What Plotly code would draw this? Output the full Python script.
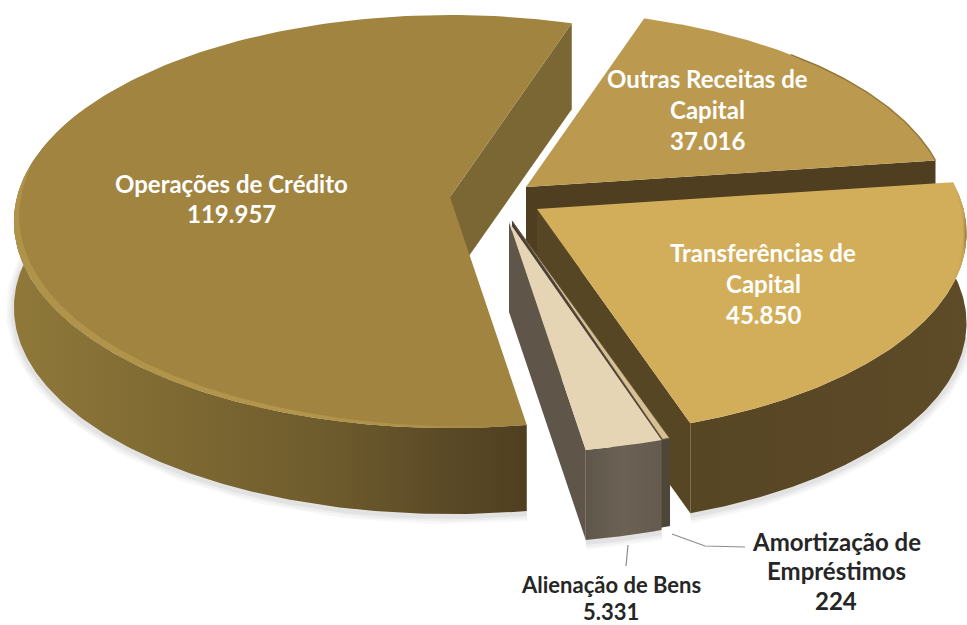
import numpy as np
import plotly.graph_objects as go

# ---- data (clockwise from the "Operações de Crédito" start)
categories = ["Operações de Crédito", "Outras Receitas de Capital", "Transferências de Capital",
              "Amortização de Empréstimos", "Alienação de Bens"]
values = [119957, 37016, 45850, 224, 5331]

# ---- label layout
label_lines = [["Operações de Crédito"], ["Outras Receitas de", "Capital"], ["Transferências de", "Capital"],
               ["Amortização de", "Empréstimos"], ["Alienação de Bens"]]
label_centers = [(231, 183, 30), (707, 78, 31), (763, 252, 31), (836, 541, 29.5), (611, 584, 27)]
label_colors = ["#ffffff", "#ffffff", "#ffffff", "#262626", "#262626"]
label_sizes = [24, 24, 24, 24, 22]

# ---- projection of the tilted disc (screen pixels are the axis units)
START_DEG = 171.0
A, B, K = 433.0, 203.6, 0.119
depths = [86.0, 86.0, 90.0, 88.0, 90.0]
vertex = [(450, 197), (526, 187), (537, 209), (512, 221), (509, 222)]
scale = [1.0, 0.97, 0.985, 1.0, 1.0]


def proj(th_deg, i, s=1.0, dz=0.0):
    t = np.radians(th_deg)
    d = 1 + K * np.cos(t)
    k = s * scale[i]
    return (vertex[i][0] + k * A * np.sin(t) / d, vertex[i][1] - k * B * np.cos(t) / d + dz)


total = sum(values)
spans = [v / total * 360 for v in values]
edges = START_DEG + np.cumsum([0] + spans)
th0 = edges[:-1]
th1 = edges[1:]

fig = go.Figure()


def poly(x, y, color=None, grad=None, name="", line=None):
    kw = dict(x=list(x), y=list(y), mode="lines", fill="toself", name=name,
              hoverinfo="skip", showlegend=False,
              line=line or dict(width=0, color="rgba(0,0,0,0)"))
    if grad:
        kw["fillgradient"] = dict(type="horizontal", colorscale=grad)
    else:
        kw["fillcolor"] = color
    fig.add_trace(go.Scatter(**kw))


def top(i, color):
    th = np.linspace(th0[i], th1[i], 160)
    x, y = proj(th, i)
    poly([vertex[i][0], *x, vertex[i][0]], [vertex[i][1], *y, vertex[i][1]], color, name=categories[i])


def radial_wall(i, th, color):
    x, y = proj(th, i)
    vx, vy = vertex[i]
    h = depths[i]
    poly([vx, x, x, vx, vx], [vy, y, y + h, vy + h, vy], color, name=categories[i])


def outer_side(i, a, b, color=None, grad=None):
    th = np.linspace(a, b, 160)
    x, y = proj(th, i)
    x2, y2 = proj(th[::-1], i, dz=depths[i])
    poly([*x, *x2, x[0]], [*y, *y2, y[0]], color, grad, name=categories[i])


def soft_shadow(i, a, b):
    th = np.linspace(a, b, 160)
    x, y = proj(th, i, dz=depths[i] + 2)
    for w, op in [(16, 0.04), (11, 0.05), (6, 0.07)]:
        fig.add_trace(go.Scatter(x=x, y=y, mode="lines", opacity=op, hoverinfo="skip", showlegend=False,
                                 line=dict(width=w, color="#555555")))


def bevel(i, a, b, grad, inner=0.972):
    th = np.linspace(a, b, 160)
    u = np.linspace(0, 1, 160)
    s = 1 - (1 - inner) * np.sin(np.pi * u) ** 0.6
    x, y = proj(th, i)
    x2, y2 = proj(th, i, s=s)
    poly([*x, *x2[::-1], x[0]], [*y, *y2[::-1], y[0]], grad=grad, name=categories[i])


# shadows below the front of the slices
soft_shadow(0, th0[0], th0[0] + 115)
soft_shadow(2, th0[2] + 18, th1[2])
soft_shadow(4, th0[4], th1[4])

# Outras Receitas de Capital
radial_wall(1, th1[1], "#4f3f20")
top(1, "#bb9a50")
arc_x, arc_y = proj(np.linspace(th0[1] + 25, th1[1], 60), 1)
fig.add_trace(go.Scatter(x=arc_x, y=arc_y, mode="lines", hoverinfo="skip", showlegend=False,
                         line=dict(width=1.5, color="#94793a")))

# Transferências de Capital
radial_wall(2, th1[2], "#574624")
outer_side(2, th0[2], th1[2], grad=[[0, "#574624"], [0.6, "#5a4826"], [1, "#5e4c28"]])
top(2, "#d3ae5a")
bevel(2, th0[2], th0[2] + 30, [[0, "#d3ae5a"], [0.8, "#c9a553"], [1, "#8f7a44"]], inner=0.992)

# Operações de Crédito
radial_wall(0, th1[0], "#7a6733")
outer_side(0, th0[0], th0[0] + 125,
           grad=[[0, "#8f7839"], [0.3, "#7f6a33"], [0.6, "#6f5c2d"], [0.85, "#5a4926"], [1, "#4f3f20"]])
top(0, "#a08440")
bevel(0, th0[0] + 2, th0[0] + 108, [[0, "#b0934a"], [0.55, "#b3964c"], [0.85, "#ad9048"], [1, "#a08440"]],
      inner=0.98)

# Amortização de Empréstimos
radial_wall(3, th0[3], "#4a3f32")
outer_side(3, th0[3] - 0.3, th1[3] + 0.5, "#4f463a")
thin = np.linspace(th0[3] - 0.25, th1[3] + 0.25, 6)
tx, ty = proj(thin, 3)
poly([vertex[3][0], *tx, vertex[3][0]], [vertex[3][1], *ty, vertex[3][1]], "#d6bf92", name=categories[3],
     line=dict(width=0.8, color="#5c4f3c"))

# Alienação de Bens
radial_wall(4, th1[4], "#5f5549")
outer_side(4, th0[4], th1[4], grad=[[0, "#5f574b"], [0.5, "#6b6255"], [1, "#645b4e"]])
top(4, "#e5d5b5")

# leader lines
for lx, ly in [((628, 626), (545, 566)), ((672, 705, 745), (534, 546, 547))]:
    fig.add_trace(go.Scatter(x=list(lx), y=list(ly), mode="lines", hoverinfo="skip", showlegend=False,
                             line=dict(width=1.2, color="#8c8c8c")))


def fmt(v):
    return f"{v:,}".replace(",", ".")


annotations = []
for lines, v, (cx, cy, step), col, size in zip(label_lines, values, label_centers, label_colors, label_sizes):
    for j, t in enumerate(lines + [fmt(v)]):
        annotations.append(dict(x=cx, y=cy + j * step, text=t, showarrow=False, xref="x", yref="y",
                                xanchor="center", yanchor="middle",
                                font=dict(family="Lato", size=size, color=col, weight="bold")))

fig.update_layout(
    width=967, height=625, margin=dict(l=0, r=0, t=0, b=0),
    paper_bgcolor="white", plot_bgcolor="white", showlegend=False,
    xaxis=dict(range=[0, 967], visible=False, fixedrange=True),
    yaxis=dict(range=[625, 0], visible=False, fixedrange=True),
    annotations=annotations,
)
fig.write_html("out.html", config={"displayModeBar": False},
               post_script="document.body.style.margin='0';document.body.style.overflow='hidden';")
